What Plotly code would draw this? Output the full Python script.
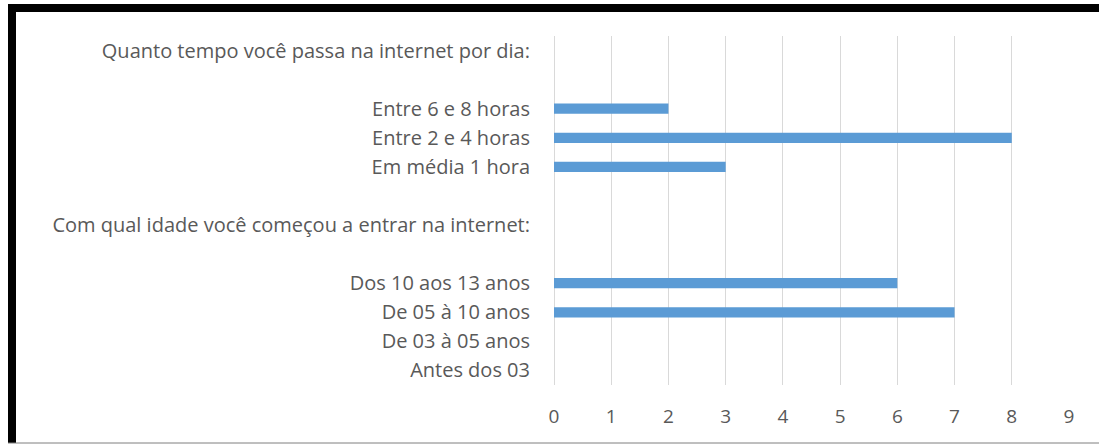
import plotly.graph_objects as go

# categorias de baixo para cima (linhas vazias separam os grupos)
categorias = [
    "Antes dos 03",
    "De 03 à 05 anos",
    "De 05 à 10 anos",
    "Dos 10 aos 13 anos",
    " ",
    "Com qual idade você começou a entrar na internet:",
    "  ",
    "Em média 1 hora",
    "Entre 2 e 4 horas",
    "Entre 6 e 8 horas",
    "   ",
    "Quanto tempo você passa na internet por dia:",
]
valores = [0, 0, 7, 6, None, None, None, 3, 8, 2, None, None]
ticks_x = [0, 1, 2, 3, 4, 5, 6, 7, 8, 9]

W, H = 1099, 445
L, R, T, B = 554, 30, 36, 60
pw, ph = W - L - R, H - T - B


def px(x):
    return (x - L) / pw


def py(y):
    return (H - B - y) / ph


fig = go.Figure(go.Bar(
    y=categorias, x=valores, orientation="h", width=0.35,
    marker=dict(color="#5B9BD5", line=dict(width=0)),
))

fig.update_layout(
    width=W, height=H,
    margin=dict(l=L, r=R, t=T, b=B),
    paper_bgcolor="white", plot_bgcolor="white",
    font=dict(family="Open Sans", size=20, color="#595959"),
    showlegend=False,
    xaxis=dict(range=[0, 9], tickvals=ticks_x, showgrid=True, gridcolor="#D9D9D9",
               gridwidth=1, zeroline=True, zerolinecolor="#D9D9D9", zerolinewidth=1,
               ticks="outside", ticklen=14, tickcolor="rgba(0,0,0,0)", fixedrange=True,
               tickfont=dict(size=19)),
    yaxis=dict(categoryorder="array", categoryarray=categorias, showgrid=False,
               ticks="outside", ticklen=19, tickcolor="rgba(0,0,0,0)", fixedrange=True),
    shapes=[
        # moldura
        dict(type="line", xref="paper", yref="paper", x0=px(8), x1=px(1099), y0=py(8), y1=py(8),
             line=dict(color="black", width=8)),
        dict(type="line", xref="paper", yref="paper", x0=px(12), x1=px(12), y0=py(4), y1=py(443),
             line=dict(color="black", width=8)),
        dict(type="line", xref="paper", yref="paper", x0=px(8), x1=px(1099), y0=py(443), y1=py(443),
             line=dict(color="#7F7F7F", width=1)),
    ],
)

fig.write_html("out.html", config={"displayModeBar": False},
               post_script="document.body.style.margin='0';")
